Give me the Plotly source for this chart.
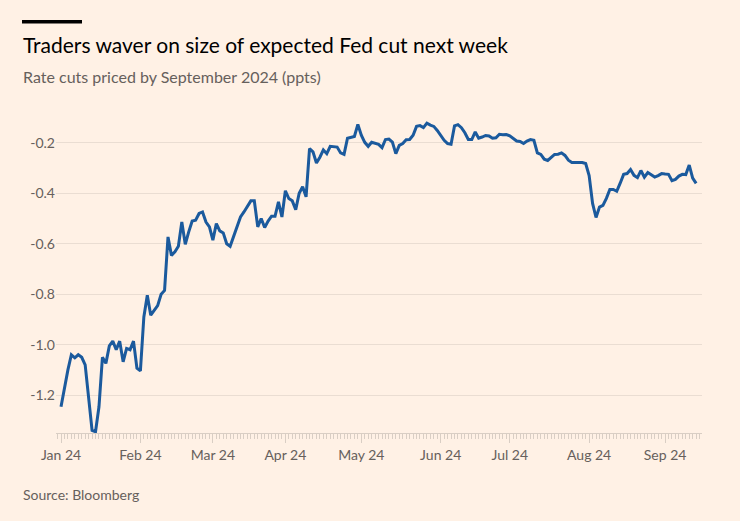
import pandas as pd
import plotly.graph_objects as go

# ---- data -------------------------------------------------------------
start_date = "2024-01-01"
end_date = "2024-09-13"

rate_cuts_priced = [
    -1.246, -1.17, -1.10, -1.04, -1.052, -1.04, -1.05, -1.08, -1.22, -1.34,
    -1.345, -1.246, -1.05, -1.074, -1.005, -0.986, -1.02, -0.986, -1.068, -1.015,
    -1.02, -0.986, -1.093, -1.104, -0.89, -0.804, -0.883, -0.865, -0.845, -0.80,
    -0.785, -0.573, -0.646, -0.632, -0.61, -0.514, -0.602, -0.553, -0.51, -0.507,
    -0.48, -0.474, -0.514, -0.533, -0.586, -0.52, -0.549, -0.557, -0.60, -0.61,
    -0.57, -0.53, -0.494, -0.474, -0.45, -0.43, -0.43, -0.533, -0.50, -0.536,
    -0.51, -0.491, -0.491, -0.434, -0.494, -0.39, -0.421, -0.43, -0.465, -0.40,
    -0.374, -0.414, -0.223, -0.236, -0.28, -0.257, -0.228, -0.243, -0.214, -0.215,
    -0.217, -0.24, -0.246, -0.182, -0.178, -0.175, -0.127, -0.17, -0.198, -0.214,
    -0.198, -0.202, -0.206, -0.219, -0.187, -0.185, -0.197, -0.243, -0.21, -0.203,
    -0.188, -0.187, -0.17, -0.135, -0.132, -0.14, -0.122, -0.13, -0.135, -0.151,
    -0.172, -0.19, -0.203, -0.206, -0.133, -0.128, -0.14, -0.16, -0.187, -0.187,
    -0.157, -0.182, -0.177, -0.171, -0.173, -0.182, -0.18, -0.166, -0.168, -0.167,
    -0.172, -0.183, -0.193, -0.195, -0.203, -0.193, -0.187, -0.19, -0.24, -0.246,
    -0.265, -0.27, -0.258, -0.246, -0.245, -0.24, -0.25, -0.269, -0.278, -0.279,
    -0.277, -0.278, -0.282, -0.33, -0.44, -0.496, -0.455, -0.448, -0.42, -0.385,
    -0.385, -0.392, -0.36, -0.325, -0.322, -0.306, -0.329, -0.338, -0.31, -0.336,
    -0.318, -0.327, -0.336, -0.33, -0.322, -0.324, -0.325, -0.35, -0.345, -0.332,
    -0.325, -0.326, -0.288, -0.34, -0.361,
]

month_tick_dates = ["2024-01-01", "2024-02-01", "2024-03-01", "2024-04-01", "2024-05-01",
                    "2024-06-03", "2024-07-01", "2024-08-01", "2024-09-02"]
month_tick_labels = ["Jan 24", "Feb 24", "Mar 24", "Apr 24", "May 24",
                     "Jun 24", "Jul 24", "Aug 24", "Sep 24"]

y_tick_vals = [-1.2, -1.0, -0.8, -0.6, -0.4, -0.2]
y_tick_labels = ["-1.2", "-1.0", "-0.8", "-0.6", "-0.4", "-0.2"]

title_text = "Traders waver on size of expected Fed cut next week"
subtitle_text = "Rate cuts priced by September 2024 (ppts)"
source_text = "Source: Bloomberg"

# ---- build ------------------------------------------------------------
dates = pd.bdate_range(start_date, end_date)
x_idx = list(range(len(dates)))
n = min(len(x_idx), len(rate_cuts_priced))
tick_pos = list(dates.get_indexer(pd.to_datetime(month_tick_dates)))

BG = "#FFF1E5"
GRID = "#EADDD2"
AXIS = "#D9CEC4"
MUTED = "#66605C"
LINE = "#1B5A9D"
FONT = "Lato, 'Noto Sans', sans-serif"

W, H = 740, 521
ML, MR, MT, MB = 56, 38, 110, 88
PW = W - ML - MR
PH = H - MT - MB


def px_x(px):
    return (px - ML) / PW


def px_y(py):
    return (H - MB - py) / PH


fig = go.Figure()
fig.add_trace(go.Scatter(
    x=x_idx[:n], y=rate_cuts_priced[:n],
    customdata=[d.strftime("%d %b %Y") for d in dates[:n]],
    mode="lines",
    line=dict(color=LINE, width=3, shape="linear"),
    hovertemplate="%{customdata}: %{y:.2f}<extra></extra>",
    showlegend=False,
))

fig.update_layout(
    width=W, height=H,
    margin=dict(l=ML, r=MR, t=MT, b=MB),
    paper_bgcolor=BG, plot_bgcolor=BG,
    font=dict(family=FONT, color=MUTED, size=14),
    xaxis=dict(
        range=[-1.45, 185.7],
        tickmode="array", tickvals=tick_pos, ticktext=month_tick_labels,
        ticks="outside", ticklen=9, tickcolor=AXIS, tickwidth=1,
        showline=True, linecolor=AXIS, linewidth=1,
        showgrid=False, zeroline=False,
        tickfont=dict(size=14, color=MUTED),
        minor=dict(tickmode="linear", tick0=0, dtick=1, ticks="outside",
                   ticklen=5, tickcolor=AXIS, tickwidth=1, showgrid=False),
        fixedrange=True,
    ),
    yaxis=dict(
        range=[-1.35, -0.07],
        tickmode="array", tickvals=y_tick_vals, ticktext=y_tick_labels,
        showgrid=True, gridcolor=GRID, gridwidth=1,
        zeroline=False, showline=False, ticks="",
        tickfont=dict(size=14, color=MUTED),
        fixedrange=True,
    ),
    shapes=[dict(type="rect", xref="paper", yref="paper",
                 x0=px_x(22), x1=px_x(82), y0=px_y(23.5), y1=px_y(20),
                 fillcolor="#000000", line=dict(width=0))],
    annotations=[
        dict(text=title_text, xref="paper", yref="paper",
             x=px_x(21), y=px_y(44.5), xanchor="left", yanchor="middle",
             showarrow=False, font=dict(size=21, color="#000000", family=FONT)),
        dict(text=subtitle_text, xref="paper", yref="paper",
             x=px_x(21), y=px_y(77), xanchor="left", yanchor="middle",
             showarrow=False, font=dict(size=16, color=MUTED, family=FONT)),
        dict(text=source_text, xref="paper", yref="paper",
             x=px_x(21), y=px_y(494), xanchor="left", yanchor="middle",
             showarrow=False, font=dict(size=14, color=MUTED, family=FONT)),
    ],
)

fig.write_html(
    "out.html",
    config={"displayModeBar": False},
    post_script=("document.body.style.margin='0';"
                 "document.body.style.background='#FFF1E5';"),
)
